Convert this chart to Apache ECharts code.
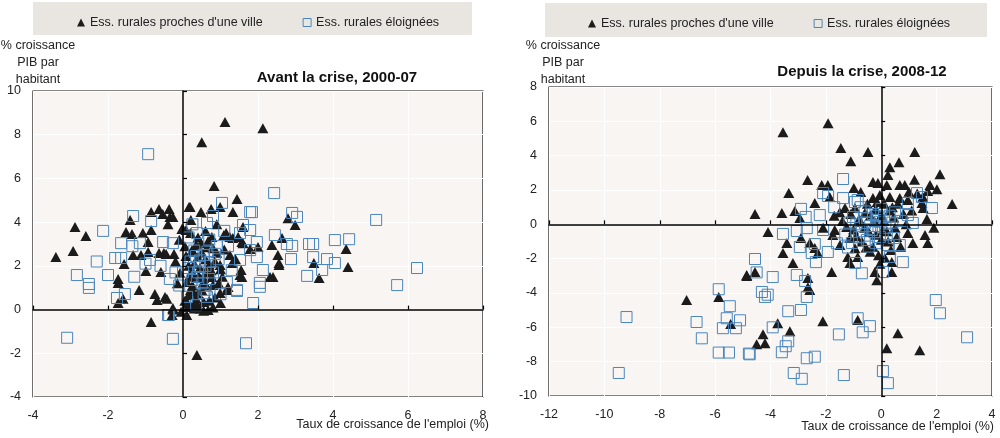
<!DOCTYPE html>
<html><head><meta charset="utf-8">
<script src="https://cdn.jsdelivr.net/npm/echarts@6/dist/echarts.min.js"></script>
<style>html,body{margin:0;padding:0;background:#fff}#c{width:1000px;height:438px}</style>
</head><body><div id="c"></div>
<script>
const seriesNames = ["Ess. rurales proches d'une ville", "Ess. rurales éloignées"];
const panelTitles = ["Avant la crise, 2000-07", "Depuis la crise, 2008-12"];
const yAxisName = "% croissance\nPIB par\nhabitant";
const xAxisName = "Taux de croissance de l'emploi (%)";
const xTicksLeft = [-4, 8, 2];   // min, max, interval
const yTicksLeft = [-4, 10, 2];
const xTicksRight = [-12, 4, 2];
const yTicksRight = [-10, 8, 2];

const procheAvant = [
[1.12,8.58],[2.13,8.3],[0.5,7.65],[0.83,5.65],[1.44,5.06],[-2.88,3.78],[-2.59,3.37],[-2.93,2.68],[-3.39,2.4],
[-0.85,4.46],[-0.64,4.6],[-0.37,4.6],[-1.41,4.1],[-0.54,4.37],[-0.27,4.24],[0.16,4.69],[0.48,4.46],[0.21,4.1],[0.75,4.6],[0.99,4.69],[1.33,4.46],[-0.03,3.69],
[-1.52,3.55],[-1.36,3.46],[-1.07,3.5],[-0.85,3.64],[-0.93,3.09],[-0.51,2.59],[-0.24,2.54],[-1.33,2.5],[-1.12,2.5],[-0.93,2.63],[0.27,2.63],[0.48,3.04],[0.77,3.32],[1.09,3.41],[1.6,3.78],
[-1.57,2.09],[-0.64,2.59],[-0.45,2.54],[-0.99,1.77],[-0.59,1.72],[-1.73,1.4],[-1.73,1.22],[-1.17,0.9],[-0.75,0.71],[-0.69,0.44],[-0.48,0.58],[-0.43,0.49],[-1.73,0.3],[-1.6,0.49],[-0.27,0.07],[-0.29,-0.25],[-0.85,-0.57],[0.37,-2.08],
[-0.08,1.67],[0.11,1.26],[0.24,1.72],[0.24,2.72],[0.67,3.14],[0.8,2.81],[1.15,3.5],[1.33,3.27],[1.6,3.04],[1.55,1.81],[1.52,1.58],[1.2,1.03],[0.99,0.76],[0.67,-0.02],[0.13,0.12],[0.27,0.21],
[2.8,4.18],[2.99,3.87],[4.35,2.77],[4.4,1.95],[3.49,2.13],[3.63,1.45],[2.56,2.13],[2.53,2.5],[2.4,1.49],[2.32,1.49],[2.0,2.86],[1.79,2.77],[1.47,3.32],[1.17,0.9],[0.19,4.69],[0,3.69],[1.31,2.13],[0.99,2.04],[0.77,1.49],[0.53,1.22],[0.27,0.81],[-0.27,0],
[1.25,3.32],[1.57,3.09],[2.37,2.95],[2.64,3.27],[2.56,2.04],[1.57,1.49],[0.8,1.12],
[0.3,1.5],[0.45,1.9],[0.6,2.3],[0.35,0.5],[0.5,0.9],[0.7,0.4],[0.15,2.0],[0.4,2.4],[0.9,2.6],[1.05,1.5],[0.6,1.7],[0.2,0.9],[0.05,0.4],[-0.15,1.2],[-0.2,2.2],[0.9,3.9],[0.6,3.6],[0.4,3.3],[0.05,2.9],[-0.1,3.2],[-0.4,3.9],[1.0,0.3],[0.8,0.1],[0.45,0.05],[-0.05,-0.1],[0.1,-0.25],[0.35,0.3],[0.55,1.45],[0.7,2.05],[1.25,2.5],[0.2,3.5],
[-0.35,4.24],[0.08,3.64],
[0.25,1.1],[0.4,0.75],[0.55,0.35],[0.15,0.65],[0.3,2.1],[0.5,2.6],[0.65,2.85],[0.85,2.2],[1.0,1.85],[0.75,1.8],[0.42,1.55],[0.62,1.1],[0.85,0.55],[0.18,1.55],[0.08,2.45],[0.35,2.95],[1.1,2.75],[1.4,2.3],[0.95,1.2],[0.3,0.05],[0.55,-0.05],[0.12,0.3]
];
const eloigneAvant = [
[-0.93,7.11],[1.04,4.88],[-1.33,4.28],[-0.85,4.05],[-2.13,3.6],[-1.65,3.04],[-0.53,3.09],[-0.27,3.04],[0.8,4.28],[0.37,3.5],[0.64,3.96],[1.79,4.46],
[-2.83,1.58],[-2.51,1.17],[-2.51,0.99],[-2.0,1.58],[-1.81,2.36],[-1.65,2.36],[-1.55,0.71],[-1.76,0.53],[-3.09,-1.29],[-0.27,-1.34],[-0.4,-0.25],[1.44,0.85],[1.68,-1.54],[0,1.72],[0.37,1.49],[0.45,1.95],[0.72,2.18],[0.11,0.58],[0.64,0.58],[1.17,1.26],[1.52,2.27],[1.6,3.87],[-1.15,3.04],[-0.88,2.27],
[2.43,5.33],[2.91,4.42],[3.04,4.24],[5.15,4.1],[2.45,3.41],[2.77,3.0],[2.91,2.91],[3.36,3.0],[3.47,3.0],[4.05,3.18],[4.43,3.22],[2.88,2.31],[3.47,2.4],[3.84,2.31],[4.05,2.13],[3.71,1.81],[3.31,1.54],[2.13,1.81],[2.05,1.22],[2.05,1.04],[6.24,1.9],[5.71,1.12],[1.87,0.3],[-0.37,-0.25],[1.79,2.72],[1.44,0.9],[1.97,3.09],[1.52,3.5],[1.97,2.4],[1.79,3.64],[1.84,4.46],
[0.3,2.7],[0.55,2.5],[0.9,2.9],[0.2,2.2],[0.5,1.2],[0.8,1.7],[0.95,2.3],[1.2,2.9],[1.1,3.6],[0.15,3.3],[-0.2,1.7],[-0.1,1.1],[0.6,0.9],[0.35,0.2],[1.3,1.8],[1.0,0.7],[0.25,3.9],[0.7,3.2],[-0.6,2.0],[-0.35,1.4],[-1.35,2.9],[-2.3,2.2],[-1.0,2.1],[-1.3,1.5],
[0.4,1.7],[0.6,2.0],[0.45,2.25],[0.7,1.4],[0.25,1.35],[0.55,0.75],[0.85,2.55],[0.35,2.45],[0.15,1.9],[0.65,2.65]
];
const procheApres = [
[-7.03,-4.41],[-5.87,-4.23],[-5.44,-5.8],[-4.86,-3.01],
[-1.92,5.89],[-3.55,5.37],[-1.46,4.44],[-0.48,4.21],[-1.1,3.68],[1.21,4.21],[0.64,3.62],[0.31,3.33],[0.24,2.87],[2.12,2.92],[-2.66,2.58],[-2.15,2.29],[-1.93,2.29],[-0.3,2.46],[-0.12,2.41],[0.2,2.29],[0.67,2.29],[0.85,2.29],[1.76,2.29],[2.01,2.05],[1.68,1.94],[-3.34,1.82],[-1.86,1.59],[-0.99,2.11],[-0.74,1.88],[-0.3,1.53],[-0.05,1.71],[0.31,1.59],[0.67,1.53],[0.96,1.42],[2.56,1.18],[1.47,1.24],[1.51,0.95],[-4.56,0.6],[-3.59,0.66],[-3.12,0.77],[-2.94,0.37],[-2.4,1.24],[-1.31,0.95],[-0.95,0.95],[-0.59,0.66],[1.65,0.31],[-4.09,-0.45],[-3.41,-1.09],[-3.55,-1.67],[-3.19,-2.25],[-2.9,-0.8],[-2.58,-1.09],[-2.4,-1.38],[-2.29,-1.67],[-1.68,-0.33],[-1.75,-0.62],[-1.49,-1.2],[-1.13,-0.8],[-1.13,-2.25],[-1.21,-1.9],[-0.85,-1.9],[-1.79,-2.78],[-0.23,-2.78],[-0.16,-3.25],[0.38,-2.78],[0.13,-1.96],[0.38,-2.2],[0.56,-0.74],[0.96,-0.51],[1.14,-1.09],[1.58,-0.62],[1.68,-1.09],[-4.86,-2.95],[-4.56,-2.78],[-2.65,-3.13],[-2.65,-3.66],[-2.58,-3.83],[-2.11,-5.64],[-0.85,-5.58],[-3.74,-5.76],[-3.3,-6.23],[-4.27,-6.41],[-4.2,-6.93],[-4.5,-6.99],[0.6,-6.35],[0.2,-7.22],[1.39,-7.33],
[-0.8,0.3],[-0.6,-0.2],[-0.4,0.5],[-0.2,-0.6],[0.1,0.2],[0.3,0.8],[0.5,-0.2],[-1.0,-0.3],[-0.7,-1.0],[-0.3,-1.3],[0.0,-0.9],[0.2,-0.4],[-1.4,0.2],[-0.5,1.2],[0.8,0.6],[1.1,0.8],[1.3,1.8],[0.4,1.0],[-0.1,-1.8],[-0.4,-1.6],[1.9,-0.2],[1.2,2.6],[0.45,0.4],[-1.7,0.5],[-2.1,-0.2],[0.9,0.0],[1.5,1.6],[0.1,1.2],[-0.2,0.9],
[-1.1,0.6],[-0.9,-0.7],[-0.55,-1.35],[-0.25,0.2],[0.0,0.55],[0.25,-1.0],[-1.25,-0.15],[-0.75,0.15],[-0.45,-0.45],[0.05,-0.35],[0.6,1.2],[-0.15,1.3],[0.7,-1.3],[-1.5,0.7],[0.35,-1.5],[-0.95,-1.4],[1.0,1.9],[-0.05,-2.3]
];
const eloigneApres = [
[-9.2,-5.4],[-9.48,-8.66],[-6.67,-5.69],[-6.48,-6.64],[-5.87,-3.78],[-5.47,-4.77],[-5.58,-5.47],[-5.72,-6.05],[-5.25,-6.05],[-5.1,-5.59],[-5.87,-7.47],[-5.5,-7.47],[-4.78,-7.53],
[-1.38,2.64],[-2.1,1.82],[-1.92,1.65],[-1.38,1.53],[-0.85,1.42],[1.29,1.82],[1.83,0.95],[-2.22,0.54],[-2.73,0.43],[-3.55,-0.56],[-3.05,-0.39],[-2.69,-0.22],[-2.1,-0.33],[-2.4,-1.15],[-2.94,-1.32],[-2.51,-1.67],[-2.36,-2.2],[-1.93,-1.61],[-4.56,-2.02],[-3.92,-3.07],[-3.05,-2.95],[-4.31,-3.94],[-4.2,-4.23],[-2.69,-4.23],[-3.36,-5.06],[-2.9,-4.99],[-3.92,-6.0],[-1.53,-6.41],[-0.85,-5.47],[-0.67,-6.29],[-0.41,-5.93],[-3.36,-6.81],[-3.45,-7.1],[-3.59,-7.45],[-4.75,-7.57],[-2.69,-7.8],[-2.4,-7.71],[-3.16,-8.66],[-2.87,-9.0],[-1.35,-8.78],[0.06,-8.55],[0.24,-9.25],[1.97,-4.41],[2.12,-5.18],[3.1,-6.58],[-0.95,1.3],[0.78,-2.2],[0.67,-1.21],[0.06,-2.78],[-0.95,-2.25],[-0.7,-2.85],[0.31,-1.9],[-1.02,0.43],[-0.59,0.08],[-0.34,-0.33],[-0.16,0.25],[-0.05,-0.74],[-0.52,-0.91],[-1.06,-1.09],[0.96,0.54],[1.14,0.08],[0.96,1.24],[1.47,1.59],
[-0.3,0.6],[-0.1,-0.1],[0.1,0.4],[0.2,-0.6],[-0.7,-0.4],[-0.9,0.0],[0.4,0.1],[0.5,0.7],[-0.45,-1.3],[-0.2,-1.1],[0.0,0.9],[-1.3,-0.6],[-1.6,-1.1],[0.7,0.2],[-2.9,0.9],[-1.7,1.0],[-4.5,-2.8],[-4.1,-4.1],[-2.75,-3.3],
[-0.5,0.35],[-0.25,-0.45],[-0.8,-0.75],[0.15,-0.2],[-0.6,0.75],[-0.15,0.5],[0.3,0.5],[-0.4,-0.1],[-1.15,0.1],[-0.05,0.15],[0.25,-1.2],[-0.75,1.0],[0.45,-0.8],[-1.2,-1.35]
];

const FONT = "'Liberation Sans', Arial, sans-serif";
const TRI = '#1b1b1b', SQ = '#4a86bd';
const grids = [
  {left: 33, top: 91, width: 450, height: 306},
  {left: 549, top: 87, width: 443, height: 309}
];
const xt = [xTicksLeft, xTicksRight], yt = [yTicksLeft, yTicksRight];
const xAxes = [], yAxes = [];
[0,1].forEach(g => {
  const base = {gridIndex: g, type: 'value', min: xt[g][0], max: xt[g][1], interval: xt[g][2]};
  xAxes.push(Object.assign({}, base, {position: 'bottom', axisLine: {show: false, onZero: false}, axisTick: {show: false},
    axisLabel: {margin: 12, color: '#222', fontFamily: FONT, fontSize: 12.5}, splitLine: {show: true, lineStyle: {color: '#fff', width: 1}}}));
  xAxes.push(Object.assign({}, base, {position: 'top', z: 5, axisLine: {show: true, onZero: true, onZeroAxisIndex: g*2, lineStyle: {color: '#000', width: 1.5}},
    axisTick: {show: true, inside: false, length: 4, lineStyle: {color: '#000', width: 1.2}}, axisLabel: {show: false}, splitLine: {show: false}}));
  const ybase = {gridIndex: g, type: 'value', min: yt[g][0], max: yt[g][1], interval: yt[g][2]};
  yAxes.push(Object.assign({}, ybase, {position: 'left', axisLine: {show: false, onZero: false}, axisTick: {show: false},
    axisLabel: {margin: 12, color: '#222', fontFamily: FONT, fontSize: 12.5}, splitLine: {show: true, lineStyle: {color: '#fff', width: 1}}}));
  yAxes.push(Object.assign({}, ybase, {position: 'right', z: 5, axisLine: {show: true, onZero: true, onZeroAxisIndex: g*2, lineStyle: {color: '#000', width: 1.5}},
    axisTick: {show: true, inside: false, length: 4, lineStyle: {color: '#000', width: 1.2}}, axisLabel: {show: false}, splitLine: {show: false}}));
});

const dataSets = [[procheAvant, eloigneAvant], [procheApres, eloigneApres]];
const series = [];
[0,1].forEach(g => {
  series.push({name: seriesNames[0], type: 'scatter', xAxisIndex: g*2, yAxisIndex: g*2, symbol: 'triangle', symbolSize: [11, 10],
    itemStyle: {color: TRI, opacity: 1}, data: dataSets[g][0], z: 3});
  series.push({name: seriesNames[1], type: 'scatter', xAxisIndex: g*2, yAxisIndex: g*2, symbol: 'rect', symbolSize: 11,
    itemStyle: {color: 'rgba(255,255,255,0)', borderColor: SQ, borderWidth: 1, opacity: 1}, data: dataSets[g][1], z: 4});
});

function textEl(x, y, text, opts) {
  return {type: 'text', x: x, y: y, style: Object.assign({text: text, fill: '#222', font: '12.5px ' + FONT}, opts || {})};
}
const graphics = [
  {type: 'rect', shape: {x: 33, y: 2, width: 439, height: 33}, style: {fill: '#e9e6e2'}, z: -1},
  {type: 'rect', shape: {x: 545, y: 3, width: 442, height: 34}, style: {fill: '#e9e6e2'}, z: -1},
  textEl(38, 37, yAxisName, {align: 'center', verticalAlign: 'top', lineHeight: 17}),
  textEl(563, 37, yAxisName, {align: 'center', verticalAlign: 'top', lineHeight: 17}),
  textEl(337, 78, panelTitles[0], {align: 'center', verticalAlign: 'middle', font: 'bold 15px ' + FONT, fill: '#111'}),
  textEl(862, 72, panelTitles[1], {align: 'center', verticalAlign: 'middle', font: 'bold 15px ' + FONT, fill: '#111'}),
  textEl(489, 425, xAxisName, {align: 'right', verticalAlign: 'middle'}),
  textEl(994, 427, xAxisName, {align: 'right', verticalAlign: 'middle'})
];

const legendData = [
  {name: seriesNames[0], icon: 'triangle', itemStyle: {color: TRI}},
  {name: seriesNames[1], icon: 'rect', itemStyle: {color: 'rgba(255,255,255,0)', borderColor: SQ, borderWidth: 1}}
];
const legendText = {fontFamily: FONT, fontSize: 12.5, color: '#222'};

const chart = echarts.init(document.getElementById('c'), null, {renderer: 'canvas'});
chart.setOption({
  animation: false,
  backgroundColor: '#fff',
  grid: grids.map(g => Object.assign({show: true, backgroundColor: '#f8f5f2', borderColor: '#111', borderWidth: 1.2, containLabel: false}, g)),
  xAxis: xAxes,
  yAxis: yAxes,
  legend: [
    {data: legendData, left: 72, top: 11, itemWidth: 8, itemHeight: 8, itemGap: 40, textStyle: legendText},
    {data: legendData, left: 583, top: 12, itemWidth: 8, itemHeight: 8, itemGap: 40, textStyle: legendText}
  ],
  graphic: graphics,
  series: series
});
</script></body></html>
